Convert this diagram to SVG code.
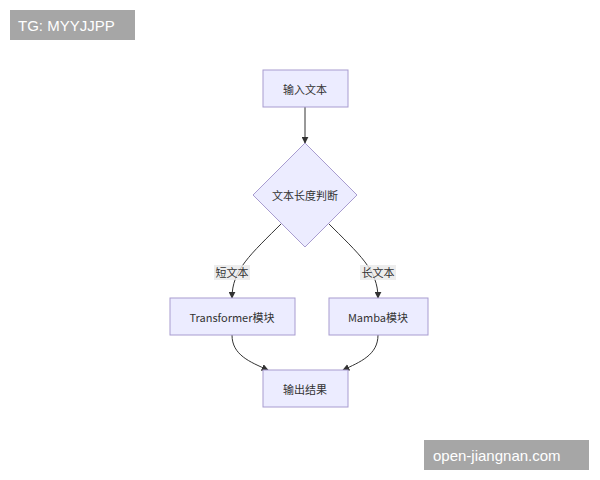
<svg xmlns="http://www.w3.org/2000/svg" width="600" height="480" viewBox="0 0 600 480">
<defs>
<style>
.n{fill:#ECECFF;stroke:#A89CD0;stroke-width:1}
.t{font-family:"Noto Sans CJK SC","Liberation Sans",sans-serif;font-size:11px;fill:#333;text-anchor:middle;dominant-baseline:central}
.e{fill:none;stroke:#333;stroke-width:1;marker-end:url(#a)}
.lb{fill:#e8e8e8;opacity:0.8}
.w{font-family:"Liberation Sans",sans-serif;font-size:15px;fill:#fff;dominant-baseline:central}
</style>
<marker id="a" viewBox="0 0 10 10" refX="9" refY="5" markerWidth="7" markerHeight="7" orient="auto"><path d="M0,0L10,5L0,10z" fill="#333"/></marker>
</defs>
<rect width="600" height="480" fill="#fff"/>
<g id="connectors">
<path class="e" d="M305,107L305,143"/>
<path class="e" d="M283,222C250,255 232,270 232,298"/>
<path class="e" d="M327,222C360,255 378,270 378,298"/>
<path class="e" d="M232,335C232,355 250,362 268,370"/>
<path class="e" d="M378,335C378,355 360,362 343,370"/>
<rect class="lb" x="214" y="265" width="36" height="15"/>
<text class="t" x="232" y="272">短文本</text>
<rect class="lb" x="360" y="265" width="36" height="15"/>
<text class="t" x="378" y="272">长文本</text>
</g>
<g id="input"><rect class="n" x="263" y="70" width="85" height="37"/><text class="t" x="305" y="89">输入文本</text></g>
<g id="judge"><path class="n" d="M305,143L357,195L305,247L253,195z"/><text class="t" x="305" y="195">文本长度判断</text></g>
<g id="transformer"><rect class="n" x="170" y="298" width="125" height="37"/><text class="t" x="232" y="317">Transformer模块</text></g>
<g id="mamba"><rect class="n" x="329" y="298" width="99" height="37"/><text class="t" x="378" y="317">Mamba模块</text></g>
<g id="output"><rect class="n" x="263" y="370" width="85" height="37"/><text class="t" x="305" y="389">输出结果</text></g>
<rect x="10" y="10" width="125" height="30" fill="#a6a6a6"/>
<text class="w" x="18" y="25">TG: MYYJJPP</text>
<rect x="424" y="440" width="165" height="30" fill="#a6a6a6"/>
<text class="w" x="433" y="455">open-jiangnan.com</text>
</svg>
